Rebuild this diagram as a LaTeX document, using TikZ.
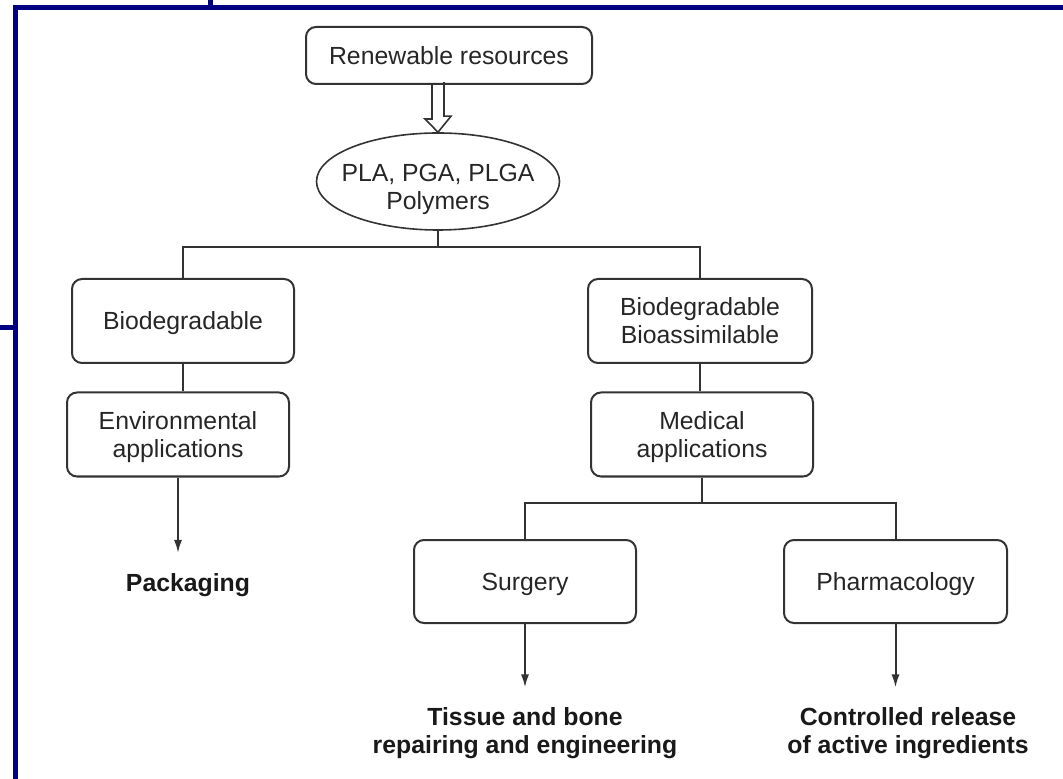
\documentclass[tikz,border=0pt]{standalone}
\usepackage{fontspec}
\setmainfont{Liberation Sans}
\usetikzlibrary{arrows.meta,shapes.geometric}
\definecolor{FrameNavy}{HTML}{000080}
\definecolor{LineGrey}{HTML}{333333}

\begin{document}
\begin{tikzpicture}[
  x=0.5pt, y=-0.5pt,
  box/.style={draw=LineGrey, line width=1pt, rounded corners=5pt, align=center, minimum width=111pt, minimum height=42pt, inner sep=0pt, text depth=0pt, text=black!85, font=\fontsize{12.4}{14}\selectfont},
  blob/.style={draw=LineGrey, line width=0.8pt, ellipse, align=center, minimum width=121.5pt, minimum height=48.5pt, inner xsep=-6pt, inner ysep=0pt, text height=31pt, text=black!85, font=\fontsize{12.4}{14}\selectfont},
  result/.style={align=center, inner sep=0pt, text=black!90, font=\fontsize{12.4}{14}\selectfont\bfseries},
  link/.style={draw=LineGrey, line width=1pt},
  flow/.style={link, -{Latex[length=6.5pt,width=4pt]}, shorten >=10pt},
  frame/.style={draw=FrameNavy, line width=2.5pt}
]
\useasboundingbox (0,0) rectangle (1063,779);

% border of the page
\draw[frame] (15.5,779) -- (15.5,7.5) -- (1063,7.5);
\draw[frame] (210.5,0) -- (210.5,7.5);
\draw[frame] (0,327.5) -- (15.5,327.5);

\node[box, minimum width=143pt, minimum height=28.5pt] (res) at (449,55.5) {Renewable resources};
\node[blob] (poly) at (438,181.5) {PLA, PGA, PLGA\\Polymers};
\node[box] (bio) at (183,321) {Biodegradable};
\node[box] (env) at (178,434.5) {Environmental\\applications};
\node[box, minimum width=112pt] (bioas) at (700,321) {Biodegradable\\Bioassimilable};
\node[box] (med) at (702,434.5) {Medical\\applications};
\node[box, minimum height=41.5pt] (surg) at (525,581.5) {Surgery};
\node[box, minimum width=111.5pt, minimum height=41.5pt] (pharm) at (895.5,581.5) {Pharmacology};
\node[result] (pack) at (188,585) {Packaging};
\node[result] (tissue) at (525,733.5) {Tissue and bone\\repairing and engineering};
\node[result] (ctrl) at (908,733.5) {Controlled release\\of active ingredients};

% hollow arrow
\draw[link, line width=0.8pt, line join=miter] (res.south -| poly.north) ++(-6,0) -- ++(0,34) -- ++(-7,0) -- (poly.north) -- ++(13,-16) -- ++(-7,0) -- ++(0,-34);

\draw[link] (poly.south) -- ++(0,16) coordinate (fork);
\draw[link] (bio.north) |- (fork) -| (bioas.north);
\draw[link] (bio.south) -- (bio.south |- env.north);
\draw[link] (bioas.south) -- (bioas.south |- med.north);
\draw[link] (med.south) -- ++(0,25) coordinate (medfork);
\draw[link] (surg.north) |- (medfork) -| (pharm.north);
\draw[flow] (env.south) -- (env.south |- pack.north);
\draw[flow] (surg.south) -- (surg.south |- tissue.north);
\draw[flow] (pharm.south) -- (pharm.south |- ctrl.north);
\end{tikzpicture}
\end{document}
